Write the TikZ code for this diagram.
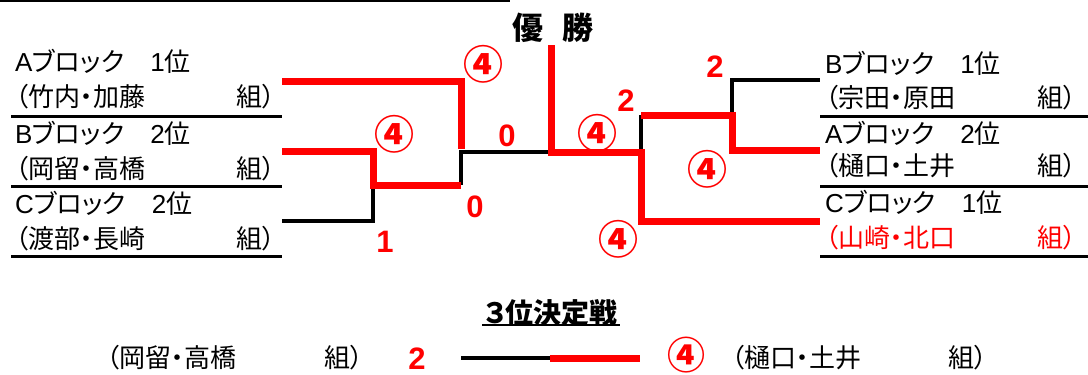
\documentclass[tikz,border=0pt]{standalone}
\usepackage{fontspec}
\setmainfont{Noto Sans CJK JP}[CharacterWidth=AlternateProportional]
\newfontfamily\jpfull{Noto Sans CJK JP}
\newfontfamily\numfont{Liberation Sans}
\newcommand\lat[1]{{\numfont #1}}
\begin{document}
\begin{tikzpicture}[x=1pt,y=-1pt,
  jp/.style={inner sep=0pt, text height=22.9pt, text depth=3.1pt, font=\fontsize{26}{26}\selectfont},
  jpl/.style={jp, anchor=west},
  jpr/.style={jp, anchor=east},
  score/.style={inner sep=0pt, text=red, text height=22.2pt, text depth=0pt, font=\numfont\bfseries\fontsize{31}{31}\selectfont},
  circ/.style={inner sep=0pt, text=red, text height=30.4pt, text depth=0pt, font=\jpfull\bfseries\fontsize{40}{40}\selectfont},
  rl/.style={draw=red, line width=7pt},
  bl/.style={draw=black, line width=4.5pt},
  uline/.style={draw=black, line width=3pt}]
\useasboundingbox (0,0) rectangle (1088,375);
% top rule
\draw[line width=2pt] (0,1) -- (510,1);
% title
\node[inner sep=0pt, text height=27.3pt, text depth=3.7pt, font=\bfseries\fontsize{31}{31}\selectfont] (win) at (553,28) {優\hspace{20pt}勝};
% left entries
\node[jpl] (la1) at (15,62) {\lat{A}ブロック　\lat{1}位};
\node[jpl] (la2) at (15,97) {（竹内・加藤};
\node[jpr] (la3) at (276,97) {組）};
\draw[uline] (11,116) -- (282,116);
\node[jpl] (lb1) at (15,134) {\lat{B}ブロック　\lat{2}位};
\node[jpl] (lb2) at (15,169) {（岡留・高橋};
\node[jpr] (lb3) at (276,169) {組）};
\draw[uline] (11,186) -- (282,186);
\node[jpl] (lc1) at (15,204) {\lat{C}ブロック　\lat{2}位};
\node[jpl] (lc2) at (15,239) {（渡部・長崎};
\node[jpr] (lc3) at (276,239) {組）};
\draw[uline] (11,256) -- (282,256);
% right entries
\node[jpl] (rb1) at (825,64) {\lat{B}ブロック　\lat{1}位};
\node[jpl] (rb2) at (825,98) {（宗田・原田};
\node[jpr] (rb3) at (1077,98) {組）};
\draw[uline] (820,116) -- (1088,116);
\node[jpl] (ra1) at (825,134) {\lat{A}ブロック　\lat{2}位};
\node[jpl] (ra2) at (825,166) {（樋口・土井};
\node[jpr] (ra3) at (1077,166) {組）};
\draw[uline] (820,186) -- (1088,186);
\node[jpl] (rc1) at (825,203) {\lat{C}ブロック　\lat{1}位};
\node[jpl, text=red] (rc2) at (825,238) {（山崎・北口};
\node[jpr, text=red] (rc3) at (1077,238) {組）};
\draw[uline] (820,256) -- (1088,256);
% bracket coordinates
\coordinate (a1) at (282,81);
\coordinate (a2) at (461,81);
\coordinate (a3) at (461,152);
\coordinate (b1) at (282,151);
\coordinate (b2) at (373,151);
\coordinate (b3) at (373,185);
\coordinate (b4) at (461,185);
\coordinate (c1) at (282,221);
\coordinate (c2) at (373,221);
\coordinate (f1) at (551,152);
\coordinate (f0) at (551,45);
\coordinate (r1) at (641,152);
\coordinate (r2) at (641,221);
\coordinate (r3) at (820,221);
\coordinate (r4) at (641,115);
\coordinate (r5) at (732,115);
\coordinate (r6) at (732,150);
\coordinate (r7) at (820,150);
\coordinate (r8) at (732,80);
\coordinate (r9) at (820,80);
% black lines
\draw[bl] (c1) -- (c2) -- (b3);
\draw[bl] (b4) -- (a3) -- (f1);
\draw[bl] (r1) -- (r4);
\draw[bl] (r5) -- (r8) -- (r9);
% red lines
\draw[rl] (a1) -- (a2) -- ([yshift=3pt]a3);
\draw[rl] (b1) -- (b2) -- (b3) -- (b4);
\draw[rl] (f0) -- (f1) -- (r1) -- (r2) -- (r3);
\draw[rl] (r4) -- (r5) -- (r6) -- (r7);
% scores
\node[circ] (s1) at (483,64) {④};
\node[circ] (s2) at (394,134) {④};
\node[score] (s3) at (507,135) {0};
\node[score] (s4) at (475,206) {0};
\node[score] (s5) at (385,241) {1};
\node[circ] (s6) at (597,133) {④};
\node[score] (s7) at (626,100) {2};
\node[score] (s8) at (715,66) {2};
\node[circ] (s9) at (707,169) {④};
\node[circ] (s10) at (618,239) {④};
% third place
\node[inner sep=0pt, text height=24.6pt, text depth=3.4pt, font=\bfseries\fontsize{28}{28}\selectfont] (third) at (551,313) {３位決定戦};
\draw[line width=2pt] (482,325) -- (620,325);
\node[jpl] (p1) at (106,358) {（岡留・高橋};
\node[jpr] (p1k) at (364,358) {組）};
\node[score] (t1) at (417,358) {2};
\coordinate (m1) at (461,358);
\coordinate (m2) at (550,358);
\coordinate (m3) at (640,358);
\draw[bl] (m1) -- (m2);
\draw[rl] (m2) -- (m3);
\node[circ, font=\jpfull\bfseries\fontsize{38}{38}\selectfont, text height=28.9pt] (t2) at (686,355) {④};
\node[jpl] (p2) at (731,358) {（樋口・土井};
\node[jpr] (p2k) at (988,358) {組）};
\end{tikzpicture}
\end{document}
